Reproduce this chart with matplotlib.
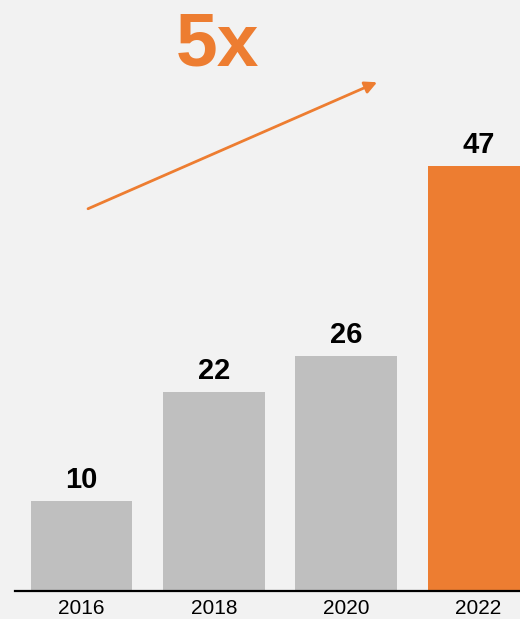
import matplotlib.pyplot as plt

plt.rcParams['font.family'] = ['Liberation Sans', 'DejaVu Sans']

years = ['2016', '2018', '2020', '2022']
values = [10, 22, 26, 47]
colors = ['#BFBFBF', '#BFBFBF', '#BFBFBF', '#ED7D31']

bg = '#F2F2F2'
orange = '#ED7D31'

fig = plt.figure(figsize=(5.2, 6.19), dpi=100, facecolor=bg)
ax = fig.add_axes([15 / 520, 28 / 619, 1 - 15 / 520, 1 - 28 / 619])
ax.set_facecolor(bg)

x = range(len(years))
bars = ax.bar(x, values, width=0.767, color=colors, zorder=2)

# value labels above each bar
for xi, v in zip(x, values):
    ax.text(xi, v + 0.75, str(v), ha='center', va='bottom',
            fontsize=21, fontweight='bold', color='black')

ax.set_xlim(-0.503, 3.314)
ax.set_ylim(0, 65.4)

ax.set_xticks(list(x))
ax.set_xticklabels(years, fontsize=15)
ax.tick_params(axis='x', length=0, pad=6)
ax.set_yticks([])

for side in ['top', 'right', 'left']:
    ax.spines[side].set_visible(False)
ax.spines['bottom'].set_linewidth(1.6)
ax.spines['bottom'].set_zorder(3)

# growth arrow and multiplier
ax.annotate('', xy=(2.234, 56.3), xytext=(0.049, 42.3),
            arrowprops=dict(arrowstyle='-|>', color=orange, lw=2,
                            mutation_scale=18, shrinkA=0, shrinkB=0))
ax.text(1.03, 58.2, '5x', ha='center', va='baseline', fontsize=54,
        fontweight='bold', color=orange)

fig.savefig('out.png', dpi=100, facecolor=bg)
